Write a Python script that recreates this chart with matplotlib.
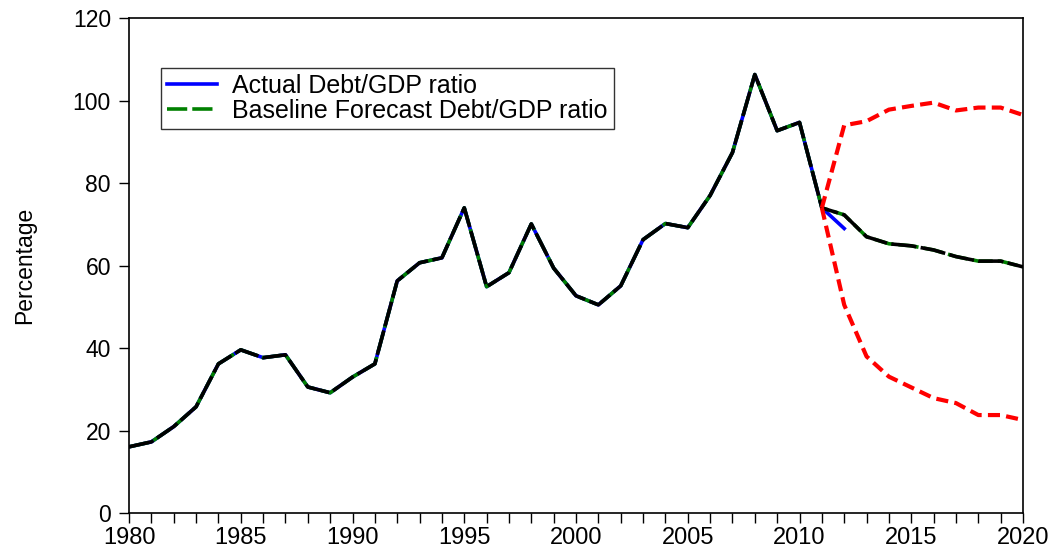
import numpy as np
import matplotlib
matplotlib.use("Agg")
from matplotlib import pyplot as plt
from matplotlib.ticker import MultipleLocator

plt.rcParams['font.family'] = ['Liberation Sans', 'DejaVu Sans']

# debt/GDP ratio, percent
years = np.arange(1980, 2021)
actual = [16.1, 17.3, 21.0, 25.8, 36.2, 39.6, 37.7, 38.4, 30.6, 29.2,
          33.0, 36.2, 56.3, 60.7, 61.9, 74.0, 54.9, 58.3, 70.1, 59.4,
          52.7, 50.5, 55.1, 66.3, 70.2, 69.2, 77.0, 87.4, 106.3, 92.7,
          94.7, 74.0, 69.0]
baseline = actual[:32] + [72.3, 67.0, 65.3, 64.8, 63.8, 62.2, 61.1, 61.1, 59.7]

band_years = np.arange(2011, 2021)
upper = [74.0, 94.0, 95.0, 97.8, 98.7, 99.5, 97.6, 98.3, 98.3, 96.5]
lower = [74.0, 50.5, 38.0, 33.1, 30.5, 27.9, 26.7, 23.8, 23.8, 22.6]

fig = plt.figure(figsize=(10.54, 5.54), dpi=100)
ax = fig.add_axes([0.1224, 0.0735, 0.8482, 0.894])

ax.plot(years[:len(actual)], actual, color='blue', lw=2.6,
        label='Actual Debt/GDP ratio')
ax.plot(years, baseline, color='green', lw=2.6, dashes=(5.6, 1.4),
        label='Baseline Forecast Debt/GDP ratio')
ax.plot(years, baseline, color='black', lw=2.6, dashes=(7, 1.2))
ax.plot(band_years, upper, color='red', lw=3, dashes=(2.9, 1.5))
ax.plot(band_years, lower, color='red', lw=3, dashes=(2.9, 1.5))

ax.set_xlim(1980, 2020)
ax.set_ylim(0, 120)
ax.xaxis.set_major_locator(MultipleLocator(5))
ax.xaxis.set_minor_locator(MultipleLocator(1))
ax.yaxis.set_major_locator(MultipleLocator(20))
ax.tick_params(axis='both', which='both', direction='out', length=7,
               width=1, top=False, right=False)
ax.tick_params(axis='x', labelsize=17, pad=3)
ax.tick_params(axis='y', labelsize=16.5, pad=6)
for s in ax.spines.values():
    s.set_linewidth(1.2)

ax.set_ylabel('Percentage', fontsize=16.5, labelpad=26)

leg = ax.legend(loc='upper left', bbox_to_anchor=(0.036, 0.9), fontsize=18,
                frameon=True, fancybox=False, edgecolor='black',
                handlelength=2.0, borderpad=0.25, labelspacing=0.05,
                handletextpad=0.6, borderaxespad=0)
leg.get_frame().set_linewidth(1)

fig.savefig('out.png', dpi=100)
